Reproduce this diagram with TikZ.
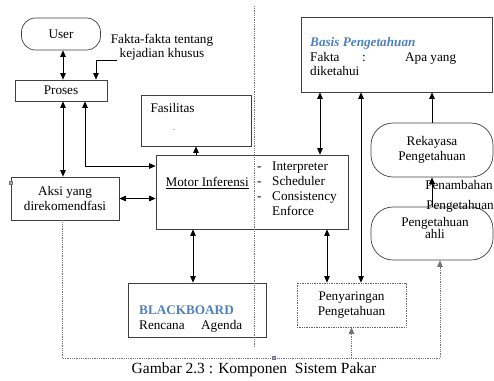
\documentclass[tikz,border=0pt]{standalone}
\usepackage{fontspec}
\setmainfont{Liberation Serif}
\usepackage{tikz}
\usetikzlibrary{arrows.meta}
\definecolor{wordblue}{RGB}{79,129,189}
\definecolor{handle}{RGB}{150,170,200}
\pgfkeys{tikz/kotak/.style={draw=black!75, line width=0.7pt}}
\pgfkeys{tikz/bulat/.style={kotak, rounded corners=#1}}
\pgfkeys{tikz/panah/.style={line width=0.8pt, >={Triangle[length=6.5pt,width=5.5pt]}}}
\pgfkeys{tikz/titik/.style={draw=black!55, line width=0.8pt, densely dotted}}

\begin{document}
\begin{tikzpicture}[x=1pt, y=-1pt, font=\fontsize{13.2}{14.5}\selectfont]
                \useasboundingbox (0,0) rectangle (494,380);

                \node[bulat=14pt, minimum width=79pt, minimum height=32pt] (user) at (61,34) {User};
                \node[kotak, minimum width=92pt, minimum height=21pt] (proses) at (61,90.5) {Proses};
                \node[align=center] (fakta) at (162,47.5) {Fakta-fakta tentang\\kejadian khusus};
                \node[kotak, minimum width=108pt, minimum height=43pt, align=center] (aksi) at (65,198.5) {Aksi yang\\direkomendfasi};

                \node[kotak, minimum width=110pt, minimum height=51pt] (fasil) at (196,120.5) {};
                \node[anchor=west] (fasiltext) at (147,108) {Fasilitas};
                \node[font=\scriptsize, inner sep=0pt] (fasildot) at (174,130) {.};

                \node[kotak, minimum width=192pt, minimum height=74pt] (motor) at (252,192) {};
                \node[anchor=west] (motortext) at (162,183) {\underline{Motor Inferensi}};
                \node[anchor=north west, align=left, inner sep=0pt, font=\fontsize{13.2}{15}\selectfont] (motorlist) at (257,162)
                    {\makebox[15pt][l]{-}Interpreter\\\makebox[15pt][l]{-}Scheduler\\\makebox[15pt][l]{-}Consistency\\\makebox[15pt][l]{}Enforce};

                \node[kotak, minimum width=138pt, minimum height=54pt] (blackboard) at (197,310) {};
                \node[anchor=north west, align=left, inner sep=0pt] (bbtext) at (139,306)
                    {\textcolor{wordblue}{\textbf{BLACKBOARD}}\\\makebox[62pt][l]{Rencana}Agenda};

                \node[kotak, minimum width=191pt, minimum height=75pt] (basis) at (396.5,54.5) {};
                \node[anchor=north west, align=left, inner sep=0pt] (basistext) at (310,37.5)
                    {\textcolor{wordblue}{\textbf{\textit{Basis Pengetahuan}}}\\\makebox[52pt][l]{Fakta}\makebox[43pt][l]{:}Apa yang\\diketahui};

                \node[bulat=22pt, minimum width=122pt, minimum height=54pt, align=center] (rekayasa) at (432,150) {Rekayasa\\Pengetahuan};
                \node[bulat=22pt, minimum width=122pt, minimum height=53pt] (ahli) at (432,233.5) {};
                \node[align=center, font=\fontsize{13.2}{12.5}\selectfont] (ahlitext) at (435,228) {Pengetahuan\\ahli};
                \node (penambahan) at (459,185) {Penambahan};
                \node[inner sep=1pt] (pengetahuanlbl) at (460,206) {Pengetahuan};

                \node[kotak, draw=black!60, densely dotted, minimum width=109pt, minimum height=44pt, align=center] (saring) at (351.5,305) {Penyaringan\\Pengetahuan};

                \node (caption) at (254,370) {\fontsize{15.5}{18}\selectfont Gambar 2.3 : Komponen\ \ Sistem Pakar};

                \coordinate (kolA) at (63,0);
                \coordinate (kolB) at (85,0);
                \coordinate (kolC) at (96,0);
                \coordinate (kolD) at (193,0);
                \coordinate (kolE) at (320,0);
                \coordinate (kolF) at (327,0);
                \coordinate (kolG) at (361,0);
                \coordinate (barisA) at (0,166);
                \coordinate (faktaend) at (117,60);
                \coordinate (dotkiri) at (62,358);
                \coordinate (dotkanan) at (440,358);
                \coordinate (garisatas) at (254,6);
                \coordinate (garisbawah) at (254,347);

                \draw[titik] (garisatas) -- (garisbawah);

                \draw[panah,<->] (user.south -| kolA) -- (proses.north -| kolA);
                \draw[panah,->] (faktaend) -| (proses.north -| kolC);
                \draw[panah,<->] (proses.south -| kolA) -- (aksi.north -| kolA);
                \draw[panah,<->] (proses.south -| kolB) |- (motor.west |- barisA);
                \draw[panah,<->] (aksi.east) -- (aksi.east -| motor.west);
                \draw[panah,->] (fasil.south |- motor.north) -- (fasil.south);
                \draw[panah,<->] (motor.south -| kolD) -- (blackboard.north -| kolD);
                \draw[panah,<->] (basis.south -| kolE) -- (motor.north -| kolE);
                \draw[panah,<->] (motor.south -| kolF) -- (saring.north -| kolF);
                \draw[panah,<->] (basis.south -| kolG) -- (saring.north -| kolG);
                \draw[panah,->] (rekayasa.north) -- (rekayasa.north |- basis.south);
                \draw[panah,->] (ahli.north) -- (rekayasa.south);

                \draw[titik,panah,->] (aksi.south -| dotkiri) -- (dotkiri) -- (dotkanan) -- (ahli.south -| dotkanan);
                \draw[titik,panah,->] (dotkiri -| saring.south) -- (saring.south);

                \filldraw[fill=handle, draw=handle!70!black, line width=0.3pt] (9.5,181.5) rectangle (12.5,184.5);
                \filldraw[fill=handle, draw=handle!70!black, line width=0.3pt] (272.5,356.5) rectangle (275.5,359.5);
            \end{tikzpicture}
\end{document}
